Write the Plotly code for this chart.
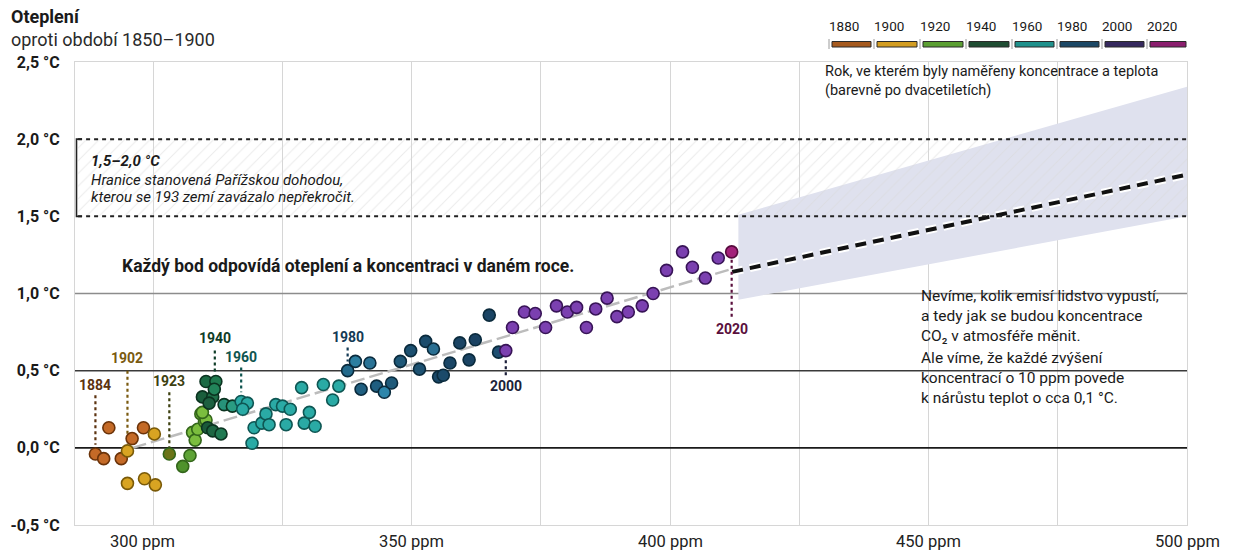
import plotly.graph_objects as go

# ---------------- data ----------------
# CO2 concentration (ppm) and warming (°C) per year, grouped by colour era
era0_co2 = [288.8, 290.4, 291.4, 293.8, 295.9, 298.1]
era0_t   = [-0.04, -0.07, 0.13, -0.07, 0.06, 0.13]
era1_co2 = [295.0, 300.2, 295.0, 298.3, 300.4]
era1_t   = [-0.02, 0.09, -0.23, -0.20, -0.24]
era2_co2 = [303.1, 305.7, 307.1, 307.6, 308.1, 308.6, 309.2, 309.9, 310.2, 309.5]
era2_t   = [-0.04, -0.12, -0.05, 0.10, 0.05, 0.12, 0.22, 0.17, 0.18, 0.23]
era3_co2 = [310.2, 312.1, 309.5, 311.5, 311.8, 310.5, 311.5, 313.1, 313.7, 315.3, 310.8]
era3_t   = [0.43, 0.43, 0.33, 0.33, 0.38, 0.13, 0.11, 0.09, 0.28, 0.27, 0.29]
era4_co2 = [317.0, 318.2, 317.3, 319.1, 319.5, 321.0, 321.8, 322.4, 323.7, 325.0,
            326.5, 325.7, 328.7, 329.2, 330.2, 331.3, 332.9, 334.7, 335.9]
era4_t   = [0.30, 0.29, 0.25, 0.03, 0.13, 0.16, 0.22, 0.15, 0.28, 0.27,
            0.25, 0.15, 0.39, 0.16, 0.23, 0.14, 0.41, 0.31, 0.40]
era5_co2 = [337.6, 339.1, 340.2, 341.9, 343.2, 344.7, 346.1, 347.8, 349.8, 351.5,
            352.7, 354.2, 355.2, 356.1, 357.4, 359.3, 361.1, 362.3, 365.0, 366.8]
era5_t   = [0.50, 0.56, 0.38, 0.55, 0.40, 0.36, 0.42, 0.56, 0.63, 0.51,
            0.69, 0.64, 0.46, 0.47, 0.55, 0.68, 0.57, 0.70, 0.86, 0.62]
era6_co2 = [368.2, 369.5, 371.8, 373.9, 375.9, 378.0, 380.1, 381.9, 383.8, 385.6,
            387.8, 389.7, 391.9, 394.6, 396.7, 399.3, 402.4, 404.3, 406.8, 409.3]
era6_t   = [0.63, 0.78, 0.88, 0.87, 0.78, 0.92, 0.88, 0.91, 0.78, 0.90,
            0.97, 0.85, 0.88, 0.92, 1.00, 1.15, 1.27, 1.17, 1.10, 1.23]
era7_co2 = [411.9]
era7_t   = [1.27]

era_fill = ["#c46a27", "#d8a422", "#7bbd3e", "#1f6b46", "#2aaaa5", "#1e5a7a", "#7b40b0", "#a3217a"]
era_line = ["#6b3309", "#7a5a08", "#33661a", "#0b3320", "#0e5653", "#0a2a3c", "#381457", "#560b3d"]

# trend line (observed) and projection
trend_co2 = [296.0, 412.0]
trend_t   = [0.0, 1.16]
proj_co2  = [412.0, 500.0]
proj_t    = [1.14, 1.77]
band_co2  = [413.2, 500.0, 500.0, 413.2]
band_t    = [1.51, 2.34, 1.50, 0.96]

# highlighted years
yr_label = ["1884", "1902", "1923", "1940", "1960", "1980", "2000", "2020"]
yr_co2   = [288.8, 295.0, 303.1, 311.9, 317.0, 337.6, 368.2, 411.9]
yr_ty    = [0.41, 0.58, 0.43, 0.71, 0.59, 0.72, 0.40, 0.77]
yr_l0    = [0.34, 0.50, 0.36, 0.63, 0.52, 0.65, 0.47, 0.85]
yr_l1    = [0.02, 0.03, 0.00, 0.49, 0.36, 0.56, 0.58, 1.22]
yr_col   = ["#5c3310", "#7a5a10", "#3d4010", "#0f3d28", "#0f5550", "#143a55", "#1c1f3a", "#5a0f3d"]

legend_years = ["1880", "1900", "1920", "1940", "1960", "1980", "2000", "2020"]
legend_fill  = ["#a65a1f", "#d39d22", "#5b9f33", "#1f4d33", "#1f918c", "#1c4866", "#35285e", "#8b1e6e"]

y_ticks = [-0.5, 0, 0.5, 1.0, 1.5, 2.0, 2.5]
y_text  = ["-0,5 °C", "0,0 °C", "0,5 °C", "1,0 °C", "1,5 °C", "2,0 °C", "2,5 °C"]
x_ticks = [300, 325, 350, 375, 400, 425, 450, 475, 500]
x_label_vals = [300, 350, 400, 450, 500]
x_label_text = ["300 ppm", "350 ppm", "400 ppm", "450 ppm", "500 ppm"]
x_label_shift = [-11, 0, 0, 0, 0]

X0, X1 = 284.85, 500.0
FONT = "Roboto"
INK = "#1a1a1a"

# pixel helpers for decorations outside the plot area
L, R, T, B = 75, 1187, 62, 525
def px(x):
    return (x - L) / (R - L)
def py(y):
    return (B - y) / (B - T)

fig = go.Figure()

# projection band
fig.add_trace(go.Scatter(x=band_co2 + [band_co2[0]], y=band_t + [band_t[0]], fill="toself",
                         fillcolor="#dfe1ee", mode="none", hoverinfo="skip", showlegend=False))
# Paris hatch
fig.add_trace(go.Scatter(x=[X0 + 0.6, X1, X1, X0 + 0.6, X0 + 0.6], y=[1.5, 1.5, 2.0, 2.0, 1.5],
                         fill="toself", mode="none", fillcolor="rgba(0,0,0,0)",
                         fillpattern=dict(shape="/", fgcolor="#d9d9d9", bgcolor="rgba(0,0,0,0)",
                                          size=9, solidity=0.12),
                         hoverinfo="skip", showlegend=False))
# trend line
fig.add_trace(go.Scatter(x=trend_co2, y=trend_t, mode="lines",
                         line=dict(color="#bcbcbc", width=2.5, dash="14px,5px"),
                         hoverinfo="skip", showlegend=False))
# projection line (white halo + black dashes)
fig.add_trace(go.Scatter(x=proj_co2, y=proj_t, mode="lines",
                         line=dict(color="white", width=8, dash="11px,7px"),
                         hoverinfo="skip", showlegend=False))
fig.add_trace(go.Scatter(x=proj_co2, y=proj_t, mode="lines",
                         line=dict(color="#111111", width=4, dash="11px,7px"),
                         hoverinfo="skip", showlegend=False))

# year marker dotted lines
for i in range(len(yr_label)):
    fig.add_trace(go.Scatter(x=[yr_co2[i], yr_co2[i]], y=[yr_l0[i], yr_l1[i]], mode="lines",
                             line=dict(color=yr_col[i], width=2.2, dash="3px,3px"),
                             hoverinfo="skip", showlegend=False))

# data points
eras = [(era0_co2, era0_t), (era1_co2, era1_t), (era2_co2, era2_t), (era3_co2, era3_t),
        (era4_co2, era4_t), (era5_co2, era5_t), (era6_co2, era6_t), (era7_co2, era7_t)]
for i, (xs, ys) in enumerate(eras):
    cols = [era_fill[i]] * len(xs)
    if i == 2:
        cols[0] = "#6b7418"
        cols[1] = "#4f922c"
        cols[2] = "#5ea336"
    if i == 3:
        cols = ["#1b6a44", "#1f7a4f", "#1a5e3c", "#1f6f48", "#22845a", "#1a5a3a",
                "#1d6642", "#207a52", "#27937a", "#2a9c82", "#1c6040"]
    if i == 5:
        cols = ["#236a8c", "#2c7ea0", "#1f5f80", "#2a7396", "#1f5e80", "#2d86ab",
                "#1e5a7a", "#1f5878", "#1c5070", "#1d5272", "#1b4c6c", "#2a6f92",
                "#1a4868", "#1b4a6a", "#1a4666", "#1a4464", "#1a4464", "#1a4262",
                "#1a4464", "#1f4f72"]
    fig.add_trace(go.Scatter(x=xs, y=ys, mode="markers",
                             marker=dict(size=12, color=cols, line=dict(color=era_line[i], width=1.6)),
                             showlegend=False, hoverinfo="x+y"))

shapes = []
shapes.append(dict(type="line", xref="x", yref="y", x0=X0, x1=X1, y0=0, y1=0,
                   line=dict(color="#1a1a1a", width=1.6), layer="between"))
shapes.append(dict(type="line", xref="x", yref="y", x0=X0, x1=X1, y0=0.5, y1=0.5,
                   line=dict(color="#3a3a3a", width=1.5), layer="between"))
shapes.append(dict(type="line", xref="x", yref="y", x0=X0, x1=X1, y0=1.0, y1=1.0,
                   line=dict(color="#8c8c8c", width=1.5), layer="between"))
# white knock-outs behind the text blocks (hide grid lines only)
shapes.append(dict(type="rect", xref="paper", yref="paper", x0=px(814), x1=px(1184),
                   y0=py(98), y1=py(57), fillcolor="white", line=dict(width=0), layer="between"))
shapes.append(dict(type="rect", xref="paper", yref="paper", x0=px(906), x1=px(1177),
                   y0=py(409), y1=py(283), fillcolor="white", line=dict(width=0), layer="between"))
for yv in [1.5, 2.0]:
    shapes.append(dict(type="line", xref="x", yref="y", x0=X0 + 0.6, x1=X1, y0=yv, y1=yv,
                       line=dict(color="#222222", width=2, dash="4px,4px"), layer="above"))
# bracket
shapes.append(dict(type="path", xref="paper", yref="y",
                   path="M {a},2.0 L {b},2.0 L {b},1.5 L {a},1.5".format(a=px(82), b=px(76.5)),
                   line=dict(color="#222222", width=1.6)))
# legend bars
leg_x = [829, 874, 920, 966, 1012, 1057, 1102, 1147, 1189]
for i in range(len(legend_years)):
    shapes.append(dict(type="line", xref="paper", yref="paper", x0=px(leg_x[i]), x1=px(leg_x[i]),
                       y0=py(39), y1=py(49), line=dict(color="#9a9a9a", width=1)))
    shapes.append(dict(type="rect", xref="paper", yref="paper", x0=px(leg_x[i] + 3), x1=px(leg_x[i + 1] - 3),
                       y0=py(47), y1=py(41.5), fillcolor=legend_fill[i],
                       line=dict(color="#2a2a2a", width=1)))

ann = []
def txt(text, x, y, size, xanchor="left", yanchor="middle", color=INK):
    ann.append(dict(text=text, x=x, y=y, xref="paper", yref="paper", xanchor=xanchor, yanchor=yanchor,
                    showarrow=False, align="left", font=dict(size=size, color=color, family=FONT)))

txt("<b>Oteplení</b>", px(9), py(17), 18)
txt("oproti období 1850–1900", px(9), py(39), 18, color="#2a2a2a")
for i in range(len(legend_years)):
    txt(legend_years[i], px(leg_x[i] - 2), py(26), 13.5)
txt("Rok, ve kterém byly naměřeny koncentrace a teplota<br>(barevně po dvacetiletích)",
    px(823), py(61), 14.5, yanchor="top")
txt("<b><i>1,5–2,0 °C</i></b>", px(89), py(161), 15)
txt("<i>Hranice stanovená Pařížskou dohodou,</i>", px(89), py(180), 15)
txt("<i>kterou se 193 zemí zavázalo nepřekročit.</i>", px(89), py(197), 15)
txt("<b>Každý bod odpovídá oteplení a koncentraci v daném roce.</b>", px(120), py(266), 17.5)
txt("Nevíme, kolik emisí lidstvo vypustí,<br>a tedy jak se budou koncentrace<br>CO₂ v atmosféře měnit.",
    px(919), py(285), 15.5, yanchor="top")
txt("Ale víme, že každé zvýšení<br>koncentrací o 10 ppm povede<br>k nárůstu teplot o cca 0,1 °C.",
    px(919), py(347), 15.5, yanchor="top")
for i in range(len(yr_label)):
    ann.append(dict(text="<b>" + yr_label[i] + "</b>", x=yr_co2[i], y=yr_ty[i], xref="x", yref="y",
                    xanchor="center", yanchor="middle", showarrow=False,
                    font=dict(size=14, color=yr_col[i], family=FONT)))
for i in range(len(x_label_vals)):
    ann.append(dict(text=x_label_text[i], x=x_label_vals[i], y=py(541), xref="x", yref="paper",
                    xanchor="center", yanchor="middle", xshift=x_label_shift[i], showarrow=False,
                    font=dict(size=16.5, color="#222222", family=FONT)))

fig.update_layout(
    width=1240, height=553,
    margin=dict(l=L, r=1240 - R, t=T, b=553 - B),
    paper_bgcolor="white", plot_bgcolor="white",
    font=dict(family=FONT, color=INK),
    shapes=shapes, annotations=ann,
    xaxis=dict(range=[X0, X1], tickvals=x_ticks, showticklabels=False, showgrid=True,
               gridcolor="#d6d6d6", gridwidth=1, zeroline=False, showline=True,
               linecolor="#d6d6d6", mirror=True, ticks=""),
    yaxis=dict(range=[-0.5, 2.5], tickvals=y_ticks, ticktext=["<b>" + t + "</b>" for t in y_text],
               showgrid=False, zeroline=False, showline=True, linecolor="#d6d6d6", mirror=True,
               ticks="", ticklabelstandoff=11,
               tickfont=dict(size=16, color=INK, family=FONT)),
    hovermode="closest",
)

fig.write_html("out.html", config={"displayModeBar": False},
               post_script="document.body.style.margin='0';document.body.style.overflow='hidden';")
